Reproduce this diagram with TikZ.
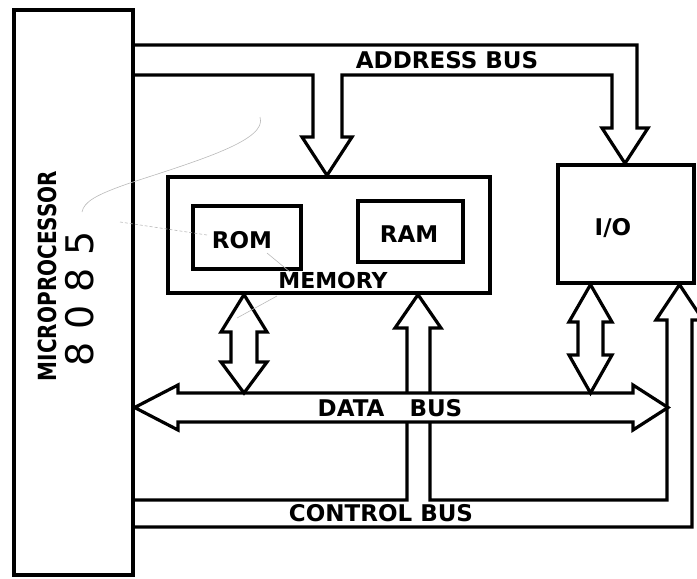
\documentclass[tikz,border=0pt]{standalone}
\usepackage{fontspec}
\setmainfont{DejaVu Sans}
\newfontfamily\labfont{DejaVu Sans Bold}
\newfontfamily\segfont[LetterSpace=34]{DejaVu Sans}
\begin{document}
\begin{tikzpicture}[x=1pt,y=-1pt,line width=3.2pt,line join=miter,
  box/.style={draw,inner sep=0pt,rectangle},
  lab/.style={inner sep=0pt,font=\labfont\fontsize{23}{23}\selectfont},
  bus/.style={draw,line width=3.2pt},
  scrib/.style={draw=gray!55,line width=0.6pt}]
\useasboundingbox (0,0) rectangle (697,579);
% blocks
\node[box,minimum width=119pt,minimum height=565pt] (cpu) at (73.5,292.5) {};
\node[box,minimum width=322pt,minimum height=116pt] (mem) at (329,235) {};
\node[box,minimum width=108pt,minimum height=63pt] (rom) at (247,237.5) {};
\node[box,minimum width=105pt,minimum height=61pt] (ram) at (410.5,231.5) {};
\node[box,minimum width=136pt,minimum height=118pt] (io) at (626,224) {};
% labels
\node[lab] (romlab) at (242,240) {ROM};
\node[lab] (ramlab) at (409,234) {RAM};
\node[lab] (iolab) at (613,228) {I/O};
\node[lab,font=\labfont\fontsize{22}{22}\selectfont] (memlab) at (333,280) {MEMORY};
\node[lab] (addrlab) at (447,60) {ADDRESS BUS};
% control bus
\draw[bus] (cpu.east |- 0,500) -- (407,500) -- (407,328) -- (395,328)
  -- (418,0 |- mem.south) -- (441,328) -- (430,328) -- (430,500) -- (667,500)
  -- (667,320) -- (656,320) -- (679.5,0 |- io.south) -- (703,320) -- (692,320)
  -- (692,527) -- (cpu.east |- 0,527);
\node[lab] (ctrllab) at (381,513) {CONTROL BUS};
% address bus
\draw[bus] (cpu.east |- 0,45) -- (637,45) -- (637,128) -- (648,128)
  -- (625,0 |- io.north) -- (602,128) -- (612,128) -- (612,75) -- (342,75)
  -- (342,137) -- (352,137) -- (327,0 |- mem.north) -- (302,137) -- (313,137)
  -- (313,75) -- (cpu.east |- 0,75);
% data bus
\draw[bus,fill=white] (cpu.east |- 0,407.5) -- (178,385) -- (178,393) -- (633,393) -- (633,385)
  -- (668,407.5) -- (633,430) -- (633,422) -- (178,422) -- (178,430) -- cycle;
\node[lab] (datalab) at (390,408.5) {DATA\hspace{25pt}BUS};
% memory <-> data bus
\draw[bus] (244,0 |- mem.south) -- (267,332) -- (257,332) -- (257,362) -- (267,362)
  -- (244,393) -- (221,362) -- (231,362) -- (231,332) -- (221,332) -- cycle;
% I/O <-> data bus
\draw[bus] (590.5,0 |- io.south) -- (612,322) -- (603,322) -- (603,355) -- (612,355)
  -- (590.5,393) -- (569,355) -- (578,355) -- (578,322) -- (569,322) -- cycle;
% processor labels
\node[lab,rotate=90,font=\labfont\fontsize{25}{25}\selectfont] (cpulab) at (47,276) {\scalebox{0.8}[1]{MICROPROCESSOR}};
\node[inner sep=0pt,rotate=90,font=\segfont\fontsize{38}{38}\selectfont] (cpunum) at (80,299) {8085};
% pencil marks
\draw[scrib] (260,117) .. controls (268,140) and (200,160) .. (130,183)
  .. controls (95,195) and (84,202) .. (82,212);
\draw[scrib,dash pattern=on 3pt off 2pt] (120,222) -- (207,235);
\draw[scrib] (267,253) -- (290,272);
\draw[scrib] (277,296) -- (237,318);
\end{tikzpicture}
\end{document}
